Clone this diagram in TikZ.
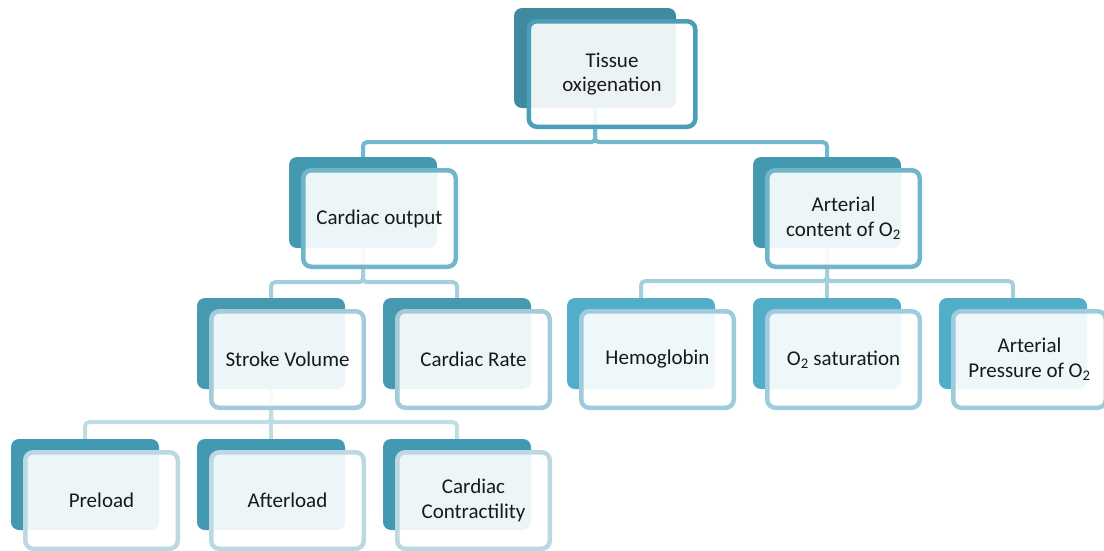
\documentclass[tikz,border=0pt]{standalone}
\usepackage{fontspec}
\setmainfont{Carlito}
\definecolor{cAback}{HTML}{3F8A9F}
\definecolor{cAbord}{HTML}{4A9EB8}
\definecolor{cBback}{HTML}{4499B1}
\definecolor{cBbord}{HTML}{71B5CB}
\definecolor{cCback}{HTML}{4699B0}
\definecolor{cCbord}{HTML}{A3CBD9}
\definecolor{cDback}{HTML}{52AEC8}
\definecolor{cDbord}{HTML}{9FCCDC}
\definecolor{cEback}{HTML}{4399B1}
\definecolor{cEbord}{HTML}{BCD9E3}
\definecolor{lA}{HTML}{72B7CC}
\definecolor{lB}{HTML}{A6CEDC}
\definecolor{lC}{HTML}{C0DCE5}
\tikzset{
  backbox/.style={rounded corners=8pt, minimum width=148pt, minimum height=91pt, inner sep=0pt, draw=none},
  frontbox/.style={rounded corners=8pt, line width=4.5pt, fill=white, fill opacity=0.9, text opacity=1,
    minimum width=152.5pt, minimum height=96.5pt, inner sep=0pt, align=center,
    font=\fontsize{21}{24.5}\selectfont, text=black!90},
  link/.style={line width=4pt, rounded corners=4pt},
}
\newcommand\backb[4]{\node[backbox, fill=#4] (#1b) at (#2+74, #3+45.5) {};}
\newcommand\frontb[5]{\node[frontbox, draw=#5] (#1) at (#2+12+78.5, #3+11+50.5) {#4};}
\begin{document}
\begin{tikzpicture}[x=1pt,y=-1pt]
\useasboundingbox (0,0) rectangle (1104,550);
% back boxes
\node[backbox, fill=cAback, minimum width=162pt, minimum height=100pt] (tissueb) at (595,58) {};
\backb{co}{289}{157}{cBback}
\backb{ac}{753}{157}{cBback}
\backb{sv}{197}{298}{cCback}
\backb{cr}{383}{298}{cCback}
\backb{hb}{567}{298}{cDback}
\backb{os}{753}{298}{cDback}
\backb{ap}{939}{298}{cDback}
\backb{pre}{11}{439}{cEback}
\backb{aft}{197}{439}{cEback}
\backb{cc}{383}{439}{cEback}
% connectors
\draw[link, lA] (tissueb.south) -- ++(0,34) -| (cob.north);
\draw[link, lA] (tissueb.south) -- ++(0,34) -| (acb.north);
\draw[link, lB] (cob.south) -- ++(0,34) -| (svb.north);
\draw[link, lB] (cob.south) -- ++(0,34) -| (crb.north);
\draw[link, lB] (acb.south) -- ++(0,33) -| (hbb.north);
\draw[link, lB] (acb.south) -- ++(0,33) -| (osb.north);
\draw[link, lB] (acb.south) -- ++(0,33) -| (apb.north);
\draw[link, lC] (svb.south) -- ++(0,33) -| (preb.north);
\draw[link, lC] (svb.south) -- ++(0,33) -| (aftb.north);
\draw[link, lC] (svb.south) -- ++(0,33) -| (ccb.north);
% front boxes
\node[frontbox, draw=cAbord, minimum width=166.5pt, minimum height=105.5pt] (tissue) at (612,74) {Tissue\\oxigenation};
\frontb{co}{289}{157}{Cardiac output}{cBbord}
\frontb{ac}{753}{157}{Arterial\\content of O\textsubscript{2}}{cBbord}
\frontb{sv}{197}{298}{Stroke Volume}{cCbord}
\frontb{cr}{383}{298}{Cardiac Rate}{cCbord}
\frontb{hb}{567}{298}{Hemoglobin}{cDbord}
\frontb{os}{753}{298}{O\textsubscript{2} saturation}{cDbord}
\frontb{ap}{939}{298}{Arterial\\Pressure of O\textsubscript{2}}{cDbord}
\frontb{pre}{11}{439}{Preload}{cEbord}
\frontb{aft}{197}{439}{Afterload}{cEbord}
\frontb{cc}{383}{439}{Cardiac\\Contractility}{cEbord}
\end{tikzpicture}
\end{document}
